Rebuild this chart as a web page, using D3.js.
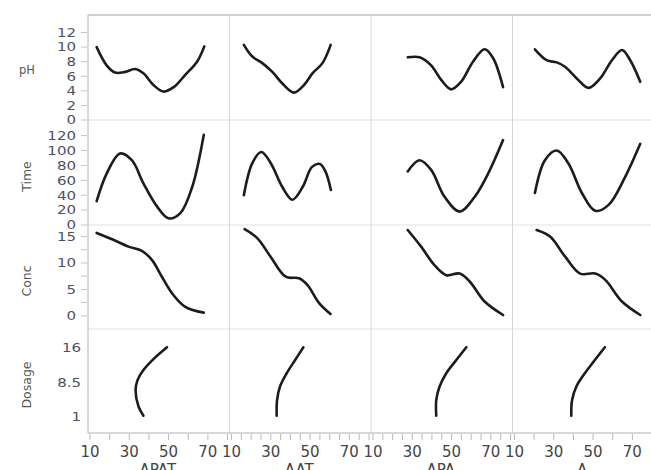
<!DOCTYPE html>
<html>
<head>
<meta charset="utf-8">
<script src="https://cdn.jsdelivr.net/npm/d3@7"></script>
<style>
  html, body { margin: 0; padding: 0; background: #fff; }
  svg { display: block; font-family: "DejaVu Sans", sans-serif; }
</style>
</head>
<body>
<svg id="chart" width="651" height="470"></svg>
<script>
// Column (x) variables and row (y) variables of the matrix
const xTitles = ["APAT", "AAT", "APA", "A"];
const yTitles = ["pH", "Time", "Conc", "Dosage"];

// Shared x range for every column
const xDomain = [9, 81];
const xTickLabels = [10, 30, 50, 70];
const xTickSteps = [10, 5, 5, 10];

// Row y ranges and tick labels
const pHDomain = [0, 14.4];
const timeDomain = [0, 141];
const concDomain = [-2.5, 17.2];
const dosageDomain = [-2.6, 20.2];
const pHTicks = [0, 2, 4, 6, 8, 10, 12];
const timeTicks = [0, 20, 40, 60, 80, 100, 120];
const concTicks = [0, 5, 10, 15];
const concMinorTicks = [2.5, 7.5, 12.5];
const dosageTicks = [1, 8.5, 16];

// Smoothed response curves: [x, y]
const pH_APAT = [[13.4,10.0],[18.5,7.5],[22.8,6.5],[27.9,6.6],[33,7.0],[37.2,6.4],[42.3,4.8],[47.4,3.9],[52.6,4.5],[58.5,6.2],[64.5,8.0],[68.2,10.1]];
const pH_AAT = [[16.3,10.3],[20.6,8.7],[25.7,7.8],[30.8,6.6],[35.9,5.0],[41.8,3.75],[46.9,4.8],[51.2,6.4],[56.3,7.8],[60.5,10.3]];
const pH_APA = [[27.7,8.6],[33.7,8.6],[39.6,7.5],[44.7,5.5],[49.8,4.2],[54.9,5.25],[60.9,8.0],[66.8,9.7],[71.1,8.5],[76.2,4.5]];
const pH_A = [[20.4,9.7],[26.4,8.2],[31.5,7.9],[35.7,7.3],[41.7,5.7],[47.7,4.4],[53.6,5.7],[59.6,8.2],[64.7,9.6],[68.9,8.2],[74.0,5.25]];

const time_APAT = [[13.4,32],[18.5,69],[25.3,96],[31.3,87],[37.2,56],[44.1,25],[50,9],[56,16],[62,51],[67.9,121]];
const time_AAT = [[16.3,40],[20.6,83],[25.2,98],[30,83],[35.9,51],[41,34],[46.2,51],[51,78],[55,82],[57.8,72],[60.6,47]];
const time_APA = [[27.7,72],[33.7,87],[39.6,74],[46.4,38],[54.1,18],[61.8,38],[68.6,69],[76.2,114]];
const time_A = [[20.4,43],[25.5,87],[31.5,100],[37.4,83],[44.3,43],[51.1,19],[57.9,27],[66.4,65],[74,109]];

const conc_APAT = [[13.4,15.7],[21.9,14.4],[29.6,13.1],[36.4,12.3],[41.5,10.6],[46.6,7.4],[51.7,4.3],[58.5,1.7],[67.9,0.6]];
const conc_AAT = [[16.7,16.4],[23.1,14.7],[29.9,11.2],[37.6,7.4],[44.4,7.1],[48.7,5.8],[54.6,2.4],[60.4,0.34]];
const conc_APA = [[27.7,16.25],[34.5,13.1],[41.3,9.6],[47.3,7.7],[54.1,8.0],[59.2,6.5],[66.8,2.7],[76.2,0.15]];
const conc_A = [[21.3,16.25],[28.1,15.0],[35.8,11.2],[43.4,8.0],[51.1,8.0],[56.2,6.8],[64.7,2.7],[74,0.15]];

const dosage_APAT = [[37.2,1.2],[34.7,3.2],[33.2,6.8],[34.2,9.0],[37.2,11.2],[42.3,13.6],[49.2,16.2]];
const dosage_AAT = [[33,1.2],[33.2,4.6],[34.7,7.6],[38.1,10.5],[42.4,13.4],[46.6,16.2]];
const dosage_APA = [[42.2,1.2],[42.2,4.6],[43.9,7.6],[47.3,10.5],[52.4,13.4],[57.5,16.2]];
const dosage_A = [[38.9,1.2],[39.3,4.6],[41.5,7.6],[45.8,10.5],[50.9,13.4],[56,16.2]];

const curveRows = [
  [pH_APAT, pH_AAT, pH_APA, pH_A],
  [time_APAT, time_AAT, time_APA, time_A],
  [conc_APAT, conc_AAT, conc_APA, conc_A],
  [dosage_APAT, dosage_AAT, dosage_APA, dosage_A]
];
const rowDomains = [pHDomain, timeDomain, concDomain, dosageDomain];
const rowTicks = [pHTicks, timeTicks, concTicks, dosageTicks];

// Layout
const plotLeft = 88, plotTop = 15, colW = 141.5;
const rowTops = [15, 120, 225, 329];
const plotBottom = 433;
const rowH = rowTops.map((t, i) => (i < 3 ? rowTops[i + 1] : plotBottom) - t);

const svg = d3.select("#chart");
const gridColor = "#d6d6d6";
const tickText = "#4f5064";

// Row dividers and top border
rowTops.slice(1).forEach(yy => {
  svg.append("line").attr("x1", plotLeft).attr("x2", 651).attr("y1", yy).attr("y2", yy)
    .attr("stroke", "#e2e2e2").attr("stroke-width", 1.2);
});
svg.append("line").attr("x1", plotLeft).attr("x2", 651).attr("y1", plotTop).attr("y2", plotTop)
  .attr("stroke", "#cfcfcf").attr("stroke-width", 2);

// Column dividers
for (let c = 1; c < 4; c++) {
  const xx = plotLeft + c * colW;
  svg.append("line").attr("x1", xx).attr("x2", xx).attr("y1", plotTop).attr("y2", plotBottom)
    .attr("stroke", gridColor).attr("stroke-width", 1);
}

// Left frame
svg.append("line").attr("x1", plotLeft).attr("x2", plotLeft).attr("y1", plotTop).attr("y2", plotBottom)
  .attr("stroke", "#b4b4b4").attr("stroke-width", 1);

// Bottom axis line
svg.append("line").attr("x1", plotLeft).attr("x2", 651).attr("y1", plotBottom).attr("y2", plotBottom)
  .attr("stroke", "#b0b0b0").attr("stroke-width", 1);

const line = d3.line().curve(d3.curveCatmullRom.alpha(0.5));

for (let r = 0; r < 4; r++) {
  const y = d3.scaleLinear().domain(rowDomains[r]).range([rowTops[r] + rowH[r], rowTops[r]]);

  // Y ticks and labels
  const yAxis = svg.append("g").attr("class", "y-axis");
  if (r < 3) {
    rowTicks[r].concat(r === 2 ? concMinorTicks : []).forEach(t => {
      yAxis.append("line").attr("x1", plotLeft - 7).attr("x2", plotLeft - 1)
        .attr("y1", y(t)).attr("y2", y(t)).attr("stroke", "#c4c4c4").attr("stroke-width", 1);
    });
  }
  const labelX = r < 3 ? 76 : 81;
  rowTicks[r].forEach(t => {
    yAxis.append("text")
      .attr("transform", `translate(${labelX},${y(t)}) scale(1,0.8)`)
      .attr("text-anchor", "end").attr("dy", "0.36em")
      .attr("font-size", 15).attr("fill", tickText)
      .text(String(t));
  });

  // Row title
  const cy = rowTops[r] + rowH[r] / 2;
  if (r === 0) {
    svg.append("text").attr("x", 27).attr("y", cy + 2).attr("text-anchor", "middle")
      .attr("dy", "0.35em").attr("font-size", 11.5).attr("fill", "#555").text(yTitles[r]);
  } else {
    svg.append("text").attr("transform", `translate(27,${cy + 4}) rotate(-90)`)
      .attr("text-anchor", "middle").attr("dy", "0.35em")
      .attr("font-size", 12.5).attr("fill", "#555").text(yTitles[r]);
  }

  for (let c = 0; c < 4; c++) {
    const x = d3.scaleLinear().domain(xDomain).range([plotLeft + c * colW, plotLeft + (c + 1) * colW]);
    line.x(d => x(d[0])).y(d => y(d[1]));
    svg.append("path").datum(curveRows[r][c]).attr("d", line)
      .attr("fill", "none").attr("stroke", "#1c1c1c").attr("stroke-width", 2.6)
      .attr("stroke-linecap", "round").attr("stroke-linejoin", "round");
  }
}

// X axes, one per column
for (let c = 0; c < 4; c++) {
  const x = d3.scaleLinear().domain(xDomain).range([plotLeft + c * colW, plotLeft + (c + 1) * colW]);
  const g = svg.append("g").attr("class", "x-axis");
  d3.range(10, 81, xTickSteps[c]).forEach(t => {
    g.append("line").attr("x1", x(t)).attr("x2", x(t)).attr("y1", plotBottom + 1).attr("y2", plotBottom + 7)
      .attr("stroke", "#b8b8b8").attr("stroke-width", 1);
  });
  xTickLabels.forEach(t => {
    g.append("text").attr("x", x(t)).attr("y", 457).attr("text-anchor", "middle")
      .attr("font-size", 15).attr("fill", "#454545").text(String(t));
  });
  g.append("text").attr("x", plotLeft + c * colW + colW / 2 - 1).attr("y", 475)
    .attr("text-anchor", "middle").attr("font-size", 15).attr("fill", "#454545").text(xTitles[c]);
}
</script>
</body>
</html>
